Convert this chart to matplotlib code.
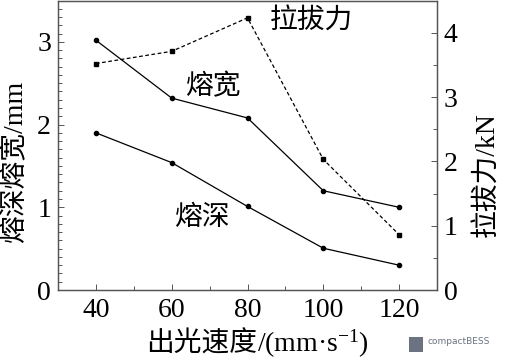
import matplotlib
matplotlib.use("Agg")
import matplotlib.pyplot as plt
from matplotlib.ticker import MultipleLocator
from matplotlib.patches import Rectangle

plt.rcParams['mathtext.fontset'] = 'custom'
plt.rcParams['mathtext.rm'] = 'Liberation Serif'
plt.rcParams['mathtext.it'] = 'Liberation Serif:italic'
plt.rcParams['mathtext.bf'] = 'Liberation Serif:bold'

speed = [40, 60, 80, 100, 120]
width_mm = [3.02, 2.32, 2.08, 1.20, 1.00]
depth_mm = [1.90, 1.54, 1.01, 0.505, 0.30]
pull_kN = [3.52, 3.71, 4.23, 2.03, 0.86]

xticks = [40, 60, 80, 100, 120]
left_ticks = [0, 1, 2, 3]
right_ticks = [0, 1, 2, 3, 4]

mixed = ['Liberation Serif', 'Noto Sans CJK SC', 'DejaVu Sans']
cjk = ['Noto Sans CJK SC', 'Liberation Serif', 'DejaVu Sans']
serif = ['Liberation Serif', 'DejaVu Serif']

fig = plt.figure(figsize=(5.05, 3.62), dpi=100)
ax = fig.add_axes([58/505, 1 - 290/362, (437 - 58)/505, (290 - 0.5)/362])
ax2 = ax.twinx()

ax.plot(speed, width_mm, color='black', lw=0.9, marker='o', ms=3)
ax.plot(speed, depth_mm, color='black', lw=0.9, marker='o', ms=3)
ax2.plot(speed, pull_kN, color='black', lw=0.9, ls=(0, (3, 2)), marker='s', ms=3.5)

ax.set_xlim(30, 130)
ax.set_ylim(0, 3.5)
ax2.set_ylim(0, 4.5)

ax.set_xticks(xticks)
ax.xaxis.set_minor_locator(MultipleLocator(10))
ax.set_yticks(left_ticks)
ax.yaxis.set_minor_locator(MultipleLocator(0.1))
ax2.set_yticks(right_ticks)
ax2.yaxis.set_minor_locator(MultipleLocator(0.5))

for a in (ax, ax2):
    for s in a.spines.values():
        s.set_color('#555555')
        s.set_linewidth(0.9)
    a.tick_params(which='both', direction='in', color='#555555', width=0.7)
    a.tick_params(which='major', length=4)
    a.tick_params(which='minor', length=3)
ax.tick_params(axis='x', pad=6, labelsize=20)
ax.tick_params(axis='y', pad=5, labelsize=20)
ax2.tick_params(axis='y', pad=5, labelsize=20)
for lab in ax.get_xticklabels() + ax.get_yticklabels() + ax2.get_yticklabels():
    lab.set_family(serif)

fig.text(15/505, 1 - 162/362, '熔深熔宽/mm', rotation=90, ha='center', va='center',
         fontsize=20, family=mixed)
fig.text(488/505, 1 - 175/362, '拉拔力/kN', rotation=90, ha='center', va='center',
         fontsize=20, family=mixed)
xl_y = 1 - 352/362
fig.text(257/505, xl_y, '出光速度', ha='right', va='baseline',
         fontsize=20, family=cjk)
fig.text(257/505, xl_y, '/(mm·s$^{-1}$)', ha='left', va='baseline',
         fontsize=20, family=serif)

ax.text(70.8, 2.46, '熔宽', ha='center', va='center', fontsize=20, family=cjk)
ax.text(67.9, 0.885, '熔深', ha='center', va='center', fontsize=20, family=cjk)
ax.text(96.8, 3.25, '拉拔力', ha='center', va='center', fontsize=20, family=cjk)

fig.patches.append(Rectangle((409/505, 1 - 352/362), 14/505, 15/362,
                             transform=fig.transFigure, facecolor='#6b7280',
                             edgecolor='none'))
fig.text(428/505, 1 - 342/362, 'compactBESS', ha='left', va='center',
         fontsize=6.5, color='#6b7280', family=['DejaVu Sans'])

fig.savefig('out.png', dpi=100)
